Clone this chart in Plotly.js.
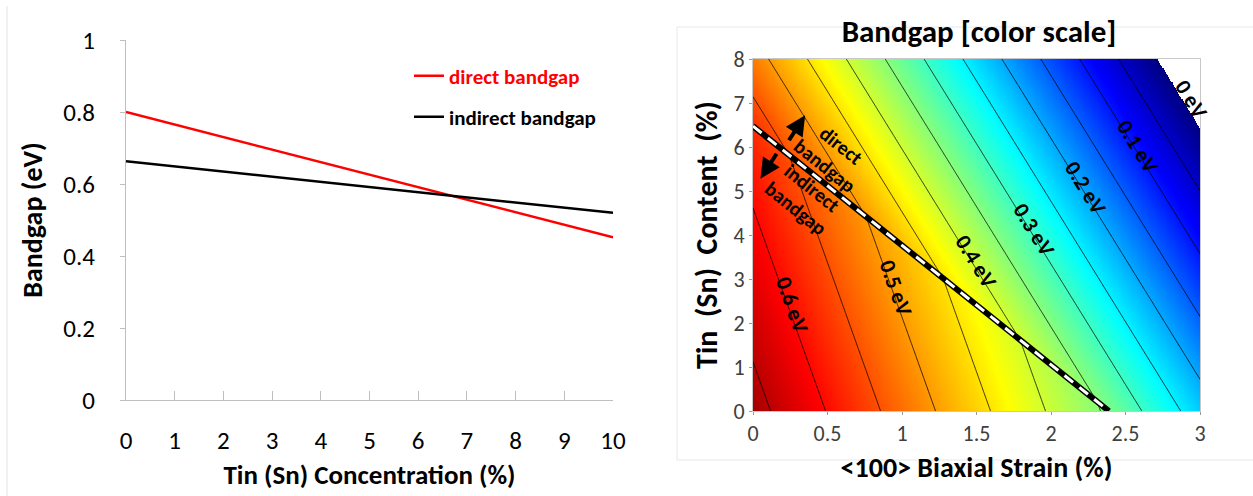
<!DOCTYPE html>
<html><head><meta charset="utf-8">
<script src="https://cdn.plot.ly/plotly-3.0.1.min.js"></script>
<style>html,body{margin:0;padding:0;background:#fff}</style>
</head><body><div id="chart" style="width:1253px;height:496px"></div>
<script>
// ---- Left panel: bandgap vs Sn concentration (straight lines read at their ends)
const tinConc = [0, 10];
const directGap = [0.80, 0.452];
const indirectGap = [0.663, 0.52];

// ---- Right panel: bandgap map model
// [direct, indirect]
const mapGapAtOrigin = [0.800, 0.666];   // eV at 0 % strain, 0 % Sn
const mapSnCoef = [0.035, 0.0143];       // eV lost per % Sn
const mapStrainCoef = [0.1916, 0.1355];  // eV lost per % biaxial strain
const strainRange = [0, 3];
const snRange = [0, 8];
const labelTexts = ['0.6 eV', '0.5 eV', '0.4 eV', '0.3 eV', '0.2 eV', '0.1 eV', '0 eV'];
const labelLevels = [0.6, 0.5, 0.4, 0.3, 0.2, 0.1, 0.0];
const labelSn = [2.41, 2.80, 3.39, 4.12, 5.08, 6.01, 7.08];

const FONT = 'Carlito, Lato, "Liberation Sans", sans-serif';
const W = 1253, H = 496;
const dom = {
  x1: [126 / W, 613 / W], y1: [(H - 400) / H, (H - 40) / H],
  x2: [753 / W, 1200 / W], y2: [(H - 411) / H, (H - 59) / H]
};

function gapAt(s, sn) {
  const d = mapGapAtOrigin[0] - mapSnCoef[0] * sn - mapStrainCoef[0] * s;
  const i = mapGapAtOrigin[1] - mapSnCoef[1] * sn - mapStrainCoef[1] * s;
  return Math.min(d, i);
}
const sx = [], sy = [];
for (let k = 0; k <= 400; k++) sx.push(strainRange[0] + k * (strainRange[1] - strainRange[0]) / 400);
for (let k = 0; k <= 400; k++) sy.push(snRange[0] + k * (snRange[1] - snRange[0]) / 400);
const zRaw = sy.map(sn => sx.map(s => gapAt(s, sn)));
const zHeat = zRaw.map(row => row.map(v => (v < 0 ? null : v)));

// direct/indirect crossover locus
const dG0 = mapGapAtOrigin[0] - mapGapAtOrigin[1];
const bSn0 = dG0 / (mapSnCoef[0] - mapSnCoef[1]);
const bS0 = dG0 / (mapStrainCoef[0] - mapStrainCoef[1]);
const boundaryX = [0, bS0];
const boundaryY = [bSn0, 0];

const jet = [[0, 'rgb(0,0,128)'], [0.125, 'rgb(0,0,255)'], [0.375, 'rgb(0,255,255)'],
             [0.625, 'rgb(255,255,0)'], [0.875, 'rgb(255,0,0)'], [1, 'rgb(128,0,0)']];

const traces = [
  {x: tinConc, y: directGap, type: 'scatter', mode: 'lines', name: 'direct bandgap',
   line: {color: '#ff0000', width: 2.5}, legend: 'legend', xaxis: 'x', yaxis: 'y', hoverinfo: 'skip'},
  {x: tinConc, y: indirectGap, type: 'scatter', mode: 'lines', name: 'indirect bandgap',
   line: {color: '#000000', width: 2.5}, legend: 'legend2', xaxis: 'x', yaxis: 'y', hoverinfo: 'skip'},
  {type: 'heatmap', x: sx, y: sy, z: zHeat, colorscale: jet, zmin: 0, zmax: 0.69,
   showscale: false, xaxis: 'x2', yaxis: 'y2', hoverinfo: 'skip', showlegend: false},
  {type: 'contour', x: sx, y: sy, z: zRaw, showscale: false, xaxis: 'x2', yaxis: 'y2',
   contours: {coloring: 'none', start: 0.05, end: 0.65, size: 0.05, showlabels: false},
   line: {color: '#000', width: 0.8}, hoverinfo: 'skip', showlegend: false},
  {x: boundaryX, y: boundaryY, type: 'scatter', mode: 'lines', line: {color: '#000', width: 6},
   xaxis: 'x2', yaxis: 'y2', showlegend: false, hoverinfo: 'skip'},
  {x: boundaryX, y: boundaryY, type: 'scatter', mode: 'lines', line: {color: '#fff', width: 3, dash: '11px,8px'},
   xaxis: 'x2', yaxis: 'y2', showlegend: false, hoverinfo: 'skip'}
];

// contour label annotations placed on their contour lines
const pxPerX = (dom.x2[1] - dom.x2[0]) * W / (strainRange[1] - strainRange[0]);
const pxPerY = (dom.y2[1] - dom.y2[0]) * H / (snRange[1] - snRange[0]);
const annotations = labelTexts.map((t, k) => {
  const L = labelLevels[k], sn = labelSn[k];
  const xd = (mapGapAtOrigin[0] - mapSnCoef[0] * sn - L) / mapStrainCoef[0];
  const xi = (mapGapAtOrigin[1] - mapSnCoef[1] * sn - L) / mapStrainCoef[1];
  const j = xi < xd ? 1 : 0;
  const ang = Math.atan((mapStrainCoef[j] / mapSnCoef[j]) * pxPerY / pxPerX) * 180 / Math.PI;
  return {x: Math.min(xd, xi), y: sn, xref: 'x2', yref: 'y2', text: t, showarrow: false,
          textangle: ang, xshift: L === 0 ? 9 : 4,
          font: {family: FONT, size: 22, color: '#000', weight: 'bold'}};
});
const bAng = Math.atan((bSn0 * pxPerY) / (bS0 * pxPerX)) * 180 / Math.PI;
annotations.push(
  {x: 0.54, y: 5.80, xref: 'x2', yref: 'y2', text: 'direct<br>bandgap', showarrow: false,
   textangle: bAng, font: {family: FONT, size: 20, color: '#000', weight: 'bold'}},
  {x: 0.34, y: 4.84, xref: 'x2', yref: 'y2', text: 'indirect<br>bandgap', showarrow: false,
   textangle: bAng, font: {family: FONT, size: 20, color: '#000', weight: 'bold'}},
  {x: 0.35, y: 6.72, ax: 0.235, ay: 6.12, xref: 'x2', yref: 'y2', axref: 'x2', ayref: 'y2',
   text: '', showarrow: true, arrowhead: 2, arrowsize: 1, arrowwidth: 4, arrowcolor: '#000'},
  {x: 0.05, y: 5.28, ax: 0.165, ay: 5.88, xref: 'x2', yref: 'y2', axref: 'x2', ayref: 'y2',
   text: '', showarrow: true, arrowhead: 2, arrowsize: 1, arrowwidth: 4, arrowcolor: '#000'}
);

const layout = {
  width: W, height: H, margin: {l: 0, r: 0, t: 0, b: 0},
  paper_bgcolor: '#fff', plot_bgcolor: '#fff',
  font: {family: FONT, color: '#000'},
  title: {text: 'Bandgap [color scale]', x: 979 / W, xanchor: 'center', y: 1 - 31 / H, yanchor: 'middle',
          font: {family: FONT, size: 31, weight: 'bold', color: '#000'}},
  xaxis: {domain: dom.x1, range: [0, 10], dtick: 1, showgrid: false, zeroline: false,
          showline: true, linecolor: '#bfbfbf', linewidth: 1, ticks: 'inside', ticklen: 9, tickcolor: '#bfbfbf',
          tickfont: {size: 25, color: '#000'}, ticklabelstandoff: 18, anchor: 'y',
          title: {text: 'Tin (Sn) Concentration (%)', standoff: 10, font: {size: 27, weight: 'bold'}}},
  yaxis: {domain: dom.y1, range: [0, 1], dtick: 0.2, showgrid: false, zeroline: false,
          showline: true, linecolor: '#bfbfbf', linewidth: 1, ticks: 'outside', ticklen: 5, tickcolor: '#bfbfbf',
          tickfont: {size: 25, color: '#000'}, ticklabelstandoff: 20, anchor: 'x',
          title: {text: 'Bandgap (eV)', standoff: 12, font: {size: 28, weight: 'bold'}}},
  xaxis2: {domain: dom.x2, range: strainRange, dtick: 0.5, showgrid: false, zeroline: false,
           showline: true, mirror: true, linecolor: '#c8c8c8', linewidth: 1, ticks: 'outside', ticklen: 3, tickcolor: '#999',
           tickfont: {size: 22, color: '#404040'}, anchor: 'y2',
           title: {text: '&lt;100&gt; Biaxial Strain (%)', standoff: 10, font: {size: 28, weight: 'bold'}}},
  yaxis2: {domain: dom.y2, range: snRange, dtick: 1, showgrid: false, zeroline: false,
           showline: true, mirror: true, linecolor: '#c8c8c8', linewidth: 1, ticks: 'outside', ticklen: 3, tickcolor: '#999',
           tickfont: {size: 22, color: '#404040'}, anchor: 'x2',
           title: {text: 'Tin&nbsp; (Sn)&nbsp; Content&nbsp; (%)', standoff: 6, font: {size: 30, weight: 'bold'}}},
  showlegend: true,
  legend: {x: 409 / W, y: 1 - 76 / H, xanchor: 'left', yanchor: 'middle', bgcolor: 'rgba(0,0,0,0)',
           itemwidth: 30, font: {family: FONT, size: 21, color: '#ff0000', weight: 'bold'}},
  legend2: {x: 409 / W, y: 1 - 117 / H, xanchor: 'left', yanchor: 'middle', bgcolor: 'rgba(0,0,0,0)',
            itemwidth: 30, font: {family: FONT, size: 21, color: '#000', weight: 'bold'}},
  shapes: [
    {type: 'line', xref: 'paper', yref: 'paper', x0: 7 / W, x1: 7 / W, y0: 0, y1: 1 - 6 / H,
     line: {color: '#e3e3e3', width: 1}},
    {type: 'rect', xref: 'paper', yref: 'paper', x0: 677 / W, x1: 1.01, y0: 1 - 460 / H, y1: 1 - 27 / H,
     line: {color: '#e8e8e8', width: 1}, layer: 'below'}
  ],
  annotations: annotations
};

Plotly.newPlot('chart', traces, layout, {displayModeBar: false, staticPlot: true});
</script></body></html>
